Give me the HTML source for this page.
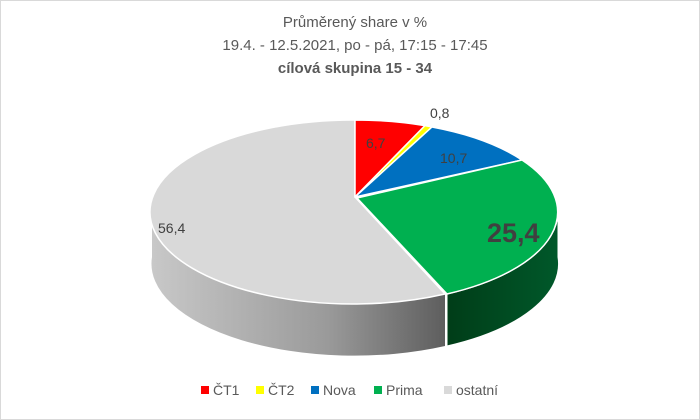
<!DOCTYPE html>
<html><head><meta charset="utf-8"><style>
body{margin:0;background:#fff;}
svg{display:block;font-family:"Liberation Sans",sans-serif;}
</style></head><body>
<svg width="700" height="420" viewBox="0 0 700 420">
<defs>
<linearGradient id="gs" x1="0" x2="1" y1="0" y2="0">
<stop offset="0" stop-color="#c8c8c8"/><stop offset="0.6" stop-color="#9a9a9a"/><stop offset="1" stop-color="#5e5e5e"/></linearGradient>
<linearGradient id="gg" x1="0" x2="1" y1="0" y2="0">
<stop offset="0" stop-color="#003d18"/><stop offset="1" stop-color="#00582a"/></linearGradient>
</defs>
<rect x="0.5" y="0.5" width="699" height="419" fill="#fff" stroke="#d9d9d9"/>
<g fill="#595959" font-size="15" text-anchor="middle">
<text x="355" y="27">Průměrený share v %</text>
<text x="355" y="50">19.4. - 12.5.2021, po - pá, 17:15 - 17:45</text>
<text x="355" y="73" font-weight="bold">cílová skupina 15 - 34</text>
</g>
<!-- sides -->
<path d="M152,212 A203,92 0 0 0 445,294 L445,346 A203,92 0 0 1 152,257 Z" fill="url(#gs)"/>
<path d="M447,294 A203,92 0 0 0 558,212 L558,257 A203,92 0 0 1 447,346 Z" fill="url(#gg)" stroke="#fff" stroke-width="1"/>
<!-- tops -->
<g stroke="#fff" stroke-width="1.5" stroke-linejoin="round">
<path d="M355,197 L355,120 A203,92 0 1 0 445,294 Z" fill="#d9d9d9"/>
<path d="M355,197 L355,120 A203,92 0 0 1 425,125.6 Z" fill="#ff0000"/>
<path d="M355,197 L425,125.6 A203,92 0 0 1 432,127 Z" fill="#ffff00"/>
<path d="M355,197 L432,127 A203,92 0 0 1 522,160 Z" fill="#0070c0"/>
<path d="M357,198 L522,160 A203,92 0 0 1 447,294 Z" fill="#00b050"/>
</g>
<g fill="#404040" font-size="14">
<text x="366" y="148">6,7</text>
<text x="430" y="118">0,8</text>
<text x="440" y="163">10,7</text>
<text x="158" y="233">56,4</text>
<text x="487" y="242" font-size="27" font-weight="bold">25,4</text>
</g>
<g font-size="14" fill="#595959">
<rect x="201" y="386" width="8" height="8" fill="#ff0000"/><text x="213" y="395">ČT1</text>
<rect x="256" y="386" width="8" height="8" fill="#ffff00"/><text x="268" y="395">ČT2</text>
<rect x="311" y="386" width="8" height="8" fill="#0070c0"/><text x="323" y="395">Nova</text>
<rect x="374" y="386" width="8" height="8" fill="#00b050"/><text x="386" y="395">Prima</text>
<rect x="444" y="386" width="8" height="8" fill="#d9d9d9"/><text x="456" y="395">ostatní</text>
</g>
</svg>
</body></html>
